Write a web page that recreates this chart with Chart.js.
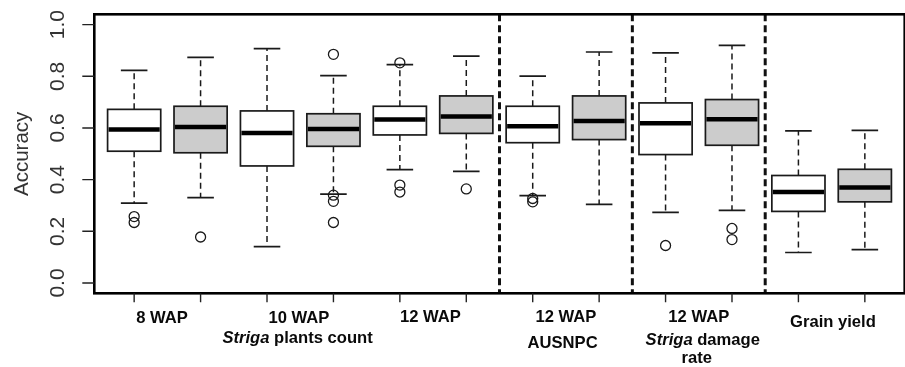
<!DOCTYPE html>
<html>
<head>
<meta charset="utf-8">
<script src="https://cdn.jsdelivr.net/npm/chart.js@4.4.1/dist/chart.umd.min.js"></script>
<style>
  html, body { margin: 0; padding: 0; background: #fff; overflow: hidden; }
</style>
</head>
<body>
<canvas id="chart" width="911" height="367"></canvas>
<script>
// ------------ data ------------------------------------

// 12 boxes, two per trait (white / grey)
const boxNames = [
  '8 WAP', '8 WAP', '10 WAP', '10 WAP', '12 WAP', '12 WAP',
  'AUSNPC', 'AUSNPC', 'Damage rate', 'Damage rate', 'Grain yield', 'Grain yield'
];
const lowWhisker = [0.309, 0.330, 0.141, 0.344, 0.439, 0.432, 0.338, 0.304, 0.273, 0.281, 0.118, 0.129];
const q1 =         [0.510, 0.504, 0.453, 0.529, 0.573, 0.579, 0.543, 0.555, 0.497, 0.533, 0.277, 0.314];
const median =     [0.594, 0.604, 0.581, 0.596, 0.633, 0.644, 0.607, 0.627, 0.618, 0.634, 0.352, 0.370];
const q3 =         [0.672, 0.684, 0.666, 0.655, 0.684, 0.724, 0.684, 0.724, 0.697, 0.710, 0.416, 0.440];
const highWhisker = [0.823, 0.873, 0.907, 0.803, 0.845, 0.878, 0.801, 0.894, 0.891, 0.920, 0.589, 0.591];
const outliers = [
  [0.257, 0.234], [0.178], [], [0.885, 0.340, 0.316, 0.234],
  [0.852, 0.379, 0.352], [0.364], [0.327, 0.314], [],
  [0.145], [0.211, 0.168], [], []
];
const yTicks = [0, 0.2, 0.4, 0.6, 0.8, 1.0];
const separators = [6.5, 8.5, 10.5];

// ------------ drawing -------------

const boxPos = boxNames.map((n, i) => i + 1);
const outlierPoints = [];
outliers.forEach((list, i) => list.forEach(v => outlierPoints.push({x: boxPos[i], y: v})));

const FONT = '"Liberation Sans", Arial, sans-serif';

// x labels: [position, baseline, [text, italic]...]
const xLabels = [
  [1.42, 323, [['8 WAP', false]]],
  [3.48, 323, [['10 WAP', false]]],
  [3.46, 343, [['Striga', true], [' plants count', false]]],
  [5.46, 322, [['12 WAP', false]]],
  [7.5, 322, [['12 WAP', false]]],
  [7.45, 348, [['AUSNPC', false]]],
  [9.5, 322, [['12 WAP', false]]],
  [9.56, 345, [['Striga', true], [' damage', false]]],
  [9.47, 363, [['rate', false]]],
  [11.52, 327, [['Grain yield', false]]]
];

const boxplot = {
  id: 'boxplot',
  beforeDatasetsDraw(chart) {
    const {ctx, chartArea: a, scales: {x, y}} = chart;
    ctx.save();

    // dashed separators
    ctx.strokeStyle = '#111';
    ctx.lineWidth = 3;
    ctx.setLineDash([7, 4]);
    separators.forEach(s => {
      const px = x.getPixelForValue(s);
      ctx.beginPath();
      ctx.moveTo(px, a.top);
      ctx.lineTo(px, a.bottom);
      ctx.stroke();
    });

    boxPos.forEach((p, i) => {
      const cx = x.getPixelForValue(p);
      const bl = x.getPixelForValue(p - 0.4), br = x.getPixelForValue(p + 0.4);
      const sl = x.getPixelForValue(p - 0.2), sr = x.getPixelForValue(p + 0.2);
      const yLo = y.getPixelForValue(lowWhisker[i]), yHi = y.getPixelForValue(highWhisker[i]);
      const yQ1 = y.getPixelForValue(q1[i]), yQ3 = y.getPixelForValue(q3[i]);
      const yMed = y.getPixelForValue(median[i]);

      // whiskers
      ctx.strokeStyle = '#1a1a1a';
      ctx.lineWidth = 1.5;
      ctx.setLineDash([6, 4]);
      ctx.beginPath();
      ctx.moveTo(cx, yQ3); ctx.lineTo(cx, yHi);
      ctx.moveTo(cx, yQ1); ctx.lineTo(cx, yLo);
      ctx.stroke();
      ctx.setLineDash([]);
      ctx.lineWidth = 1.7;
      ctx.beginPath();
      ctx.moveTo(sl, yHi); ctx.lineTo(sr, yHi);
      ctx.moveTo(sl, yLo); ctx.lineTo(sr, yLo);
      ctx.stroke();

      // box
      ctx.fillStyle = i % 2 ? '#cccccc' : '#ffffff';
      ctx.fillRect(bl, yQ3, br - bl, yQ1 - yQ3);
      ctx.lineWidth = 1.7;
      ctx.strokeRect(bl, yQ3, br - bl, yQ1 - yQ3);

      // median
      ctx.strokeStyle = '#000';
      ctx.lineWidth = 4.5;
      ctx.beginPath();
      ctx.moveTo(bl + 1, yMed); ctx.lineTo(br - 1, yMed);
      ctx.stroke();
    });
    ctx.restore();
  },
  afterDraw(chart) {
    const {ctx, chartArea: a, scales: {x, y}} = chart;
    ctx.save();

    // frame
    ctx.strokeStyle = '#000';
    ctx.lineWidth = 2.6;
    ctx.strokeRect(a.left, a.top, a.right - a.left, a.bottom - a.top);

    // tick marks
    ctx.lineWidth = 1.4;
    ctx.strokeStyle = '#222';
    ctx.beginPath();
    boxPos.forEach(p => {
      const px = x.getPixelForValue(p);
      ctx.moveTo(px, a.bottom); ctx.lineTo(px, a.bottom + 9);
    });
    yTicks.forEach(v => {
      const py = y.getPixelForValue(v);
      ctx.moveTo(a.left, py); ctx.lineTo(a.left - 12, py);
    });
    ctx.stroke();

    // y tick labels and title (rotated)
    ctx.fillStyle = '#333';
    ctx.textAlign = 'center';
    ctx.textBaseline = 'alphabetic';
    ctx.font = '21px ' + FONT;
    yTicks.forEach(v => {
      ctx.save();
      ctx.translate(64, y.getPixelForValue(v));
      ctx.rotate(-Math.PI / 2);
      ctx.fillText(v.toFixed(1), 0, 0);
      ctx.restore();
    });
    ctx.font = '20.5px ' + FONT;
    ctx.save();
    ctx.translate(28, (a.top + a.bottom) / 2);
    ctx.rotate(-Math.PI / 2);
    ctx.fillText('Accuracy', 0, 0);
    ctx.restore();

    // x labels
    ctx.fillStyle = '#0a0a0a';
    ctx.textAlign = 'left';
    xLabels.forEach(([pos, base, parts]) => {
      const fonts = parts.map(([t, it]) => (it ? 'italic ' : '') + 'bold 16.6px ' + FONT);
      let w = 0;
      parts.forEach(([t], k) => { ctx.font = fonts[k]; w += ctx.measureText(t).width; });
      let px = x.getPixelForValue(pos) - w / 2;
      parts.forEach(([t], k) => {
        ctx.font = fonts[k];
        ctx.fillText(t, px, base);
        px += ctx.measureText(t).width;
      });
    });
    ctx.restore();
  }
};

const config = {
  type: 'scatter',
  data: {
    datasets: [{
      label: 'Outliers',
      data: outlierPoints,
      pointRadius: 5,
      pointHoverRadius: 5,
      pointBackgroundColor: 'rgba(0,0,0,0)',
      pointBorderColor: '#1a1a1a',
      pointBorderWidth: 1.3
    }]
  },
  options: {
    responsive: false,
    animation: false,
    devicePixelRatio: 1,
    layout: { padding: { left: 94.3, top: 14.3, bottom: 73.7, right: 0 } },
    scales: {
      x: { type: 'linear', min: 0.4, max: 12.6, display: false },
      y: { type: 'linear', min: -0.04, max: 1.04, display: false }
    },
    plugins: { legend: { display: false }, tooltip: { enabled: false } }
  },
  plugins: [boxplot]
};

var myChart = new Chart(document.getElementById('chart'), config);
</script>
</body>
</html>
